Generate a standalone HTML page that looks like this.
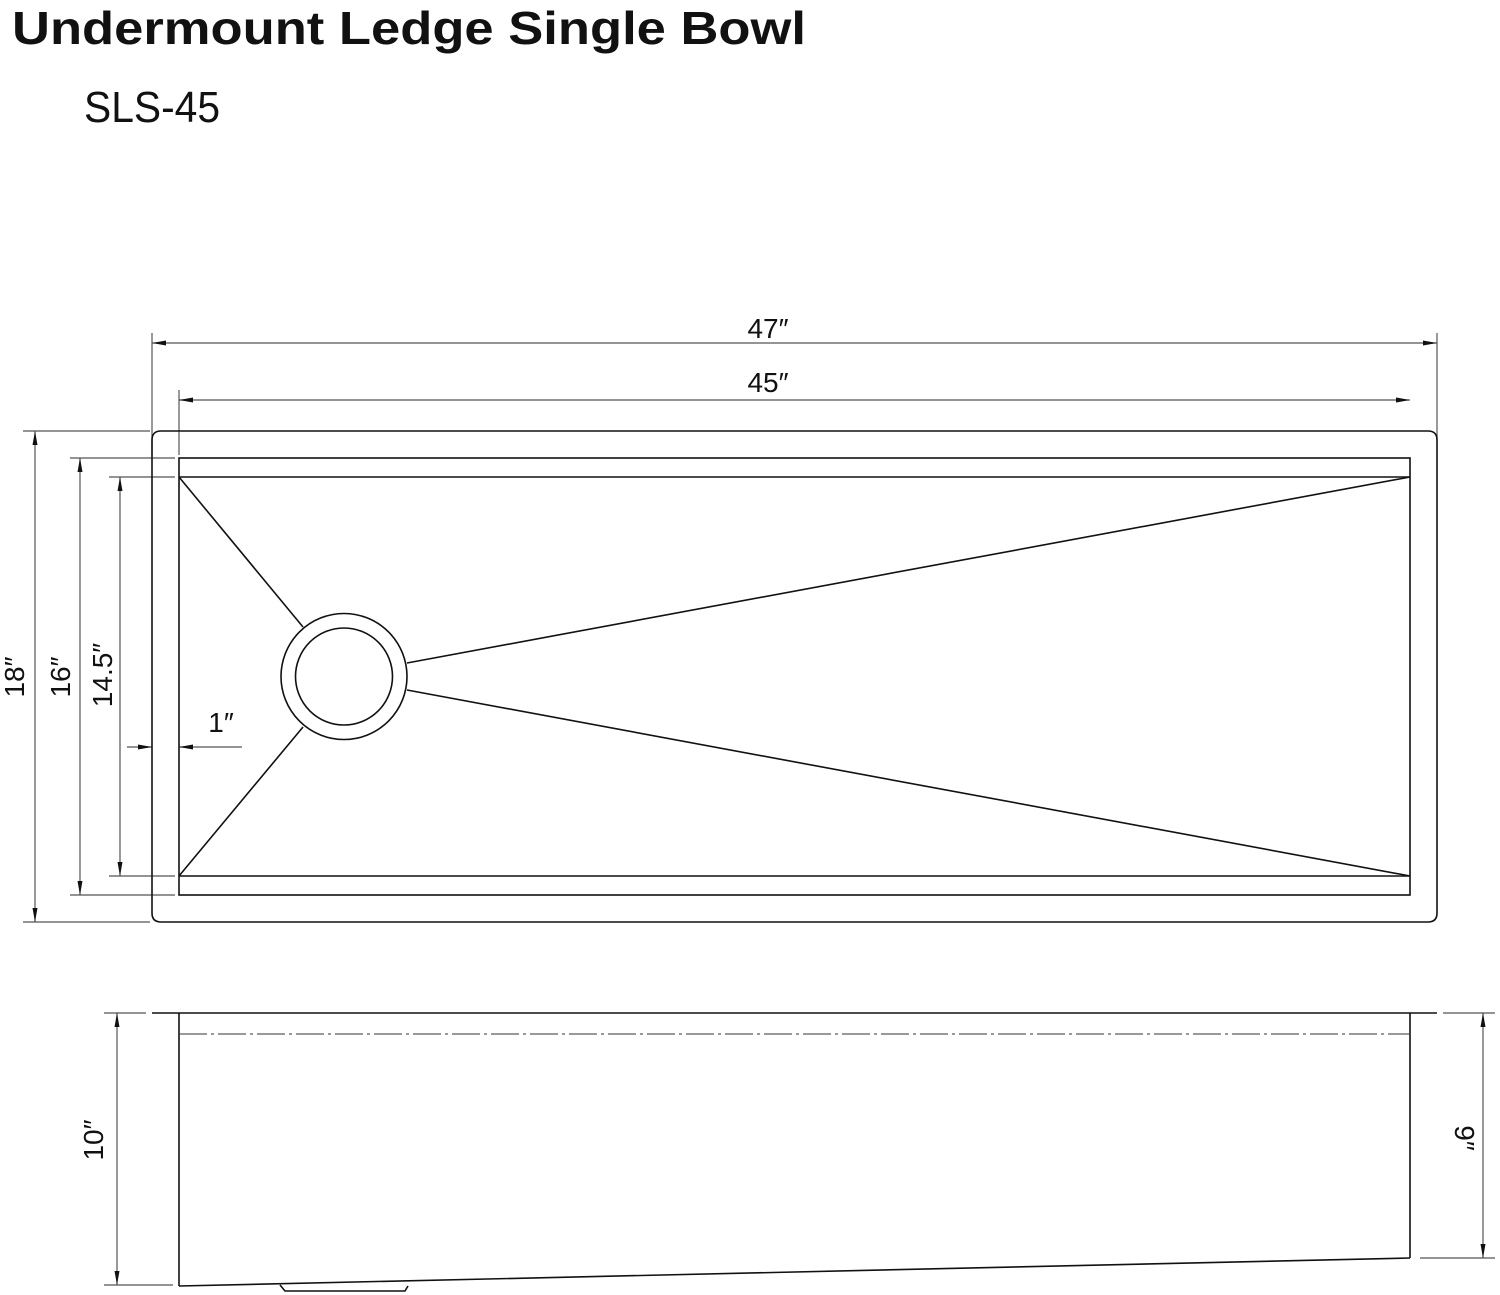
<!DOCTYPE html>
<html><head><meta charset="utf-8"><style>
html,body{margin:0;padding:0;background:#fff;}
svg{display:block;}
text{font-family:"Liberation Sans",sans-serif;fill:#111;}
</style></head><body>
<svg width="1500" height="1295" viewBox="0 0 1500 1295" xmlns="http://www.w3.org/2000/svg">
<defs>
<marker id="a" markerWidth="14" markerHeight="8" refX="14" refY="4" orient="auto-start-reverse" markerUnits="userSpaceOnUse">
<path d="M0,1.5 L14,4 L0,6.5 Z" fill="#111"/></marker>
</defs>
<text x="12" y="44" font-size="46" font-weight="bold" textLength="794" lengthAdjust="spacingAndGlyphs">Undermount Ledge Single Bowl</text>
<text x="84" y="122" font-size="44" textLength="136" lengthAdjust="spacingAndGlyphs">SLS-45</text>

<g stroke="#555" stroke-width="1.2" fill="none">
<line x1="152" y1="333" x2="152" y2="455"/>
<line x1="1437" y1="333" x2="1437" y2="440"/>
<line x1="179" y1="390" x2="179" y2="455"/>
<line x1="23" y1="431" x2="150" y2="431"/>
<line x1="23" y1="922" x2="150" y2="922"/>
<line x1="70" y1="458" x2="175" y2="458"/>
<line x1="70" y1="895" x2="175" y2="895"/>
<line x1="109" y1="477" x2="175" y2="477"/>
<line x1="109" y1="876" x2="175" y2="876"/>
<line x1="152" y1="343" x2="1437" y2="343" marker-end="url(#a)" marker-start="url(#a)"/>
<line x1="179" y1="400" x2="1410" y2="400" marker-end="url(#a)" marker-start="url(#a)"/>
<line x1="35" y1="431" x2="35" y2="922" marker-end="url(#a)" marker-start="url(#a)"/>
<line x1="80" y1="458" x2="80" y2="895" marker-end="url(#a)" marker-start="url(#a)"/>
<line x1="120" y1="477" x2="120" y2="876" marker-end="url(#a)" marker-start="url(#a)"/>
<line x1="127" y1="747" x2="152" y2="747" marker-end="url(#a)"/>
<line x1="242" y1="747" x2="179" y2="747" marker-end="url(#a)"/>
<line x1="104" y1="1013" x2="146" y2="1013"/>
<line x1="104" y1="1285" x2="173" y2="1285"/>
<line x1="117" y1="1013" x2="117" y2="1285" marker-end="url(#a)" marker-start="url(#a)"/>
<line x1="1443" y1="1013" x2="1495" y2="1013"/>
<line x1="1420" y1="1258" x2="1495" y2="1258"/>
<line x1="1483" y1="1013" x2="1483" y2="1258" marker-end="url(#a)" marker-start="url(#a)"/>
</g>
<g stroke="#111" stroke-width="1.6" fill="none">
<path d="M161,431 H1428 Q1437,431 1437,440 V913 Q1437,922 1428,922 H161 Q152,922 152,913 V440 Q152,431 161,431 Z"/>
<rect x="179" y="458" width="1231" height="437"/>
<line x1="179" y1="477" x2="1410" y2="477"/>
<line x1="179" y1="876" x2="1410" y2="876"/>
<line x1="179" y1="477" x2="303" y2="627"/>
<line x1="179" y1="876" x2="303" y2="727"/>
<line x1="407" y1="663" x2="1410" y2="477"/>
<line x1="407" y1="690" x2="1410" y2="876"/>
<circle cx="344" cy="676.5" r="63" fill="#fff"/>
<circle cx="344" cy="676.5" r="48.5"/>
<line x1="152" y1="1013" x2="1437" y2="1013"/>
<line x1="179" y1="1013" x2="179" y2="1286"/>
<line x1="1410" y1="1013" x2="1410" y2="1258"/>
<line x1="179" y1="1286" x2="1410" y2="1258"/>
<path d="M280,1285 L285,1291 H405 L408,1286"/>
</g>
<line x1="179" y1="1034" x2="1410" y2="1034" stroke="#333" stroke-width="1" stroke-dasharray="28,4,3,4"/>

<text x="768" y="338" font-size="28" text-anchor="middle">47″</text>
<text x="768" y="392" font-size="28" text-anchor="middle">45″</text>
<text x="221" y="732" font-size="28" text-anchor="middle">1″</text>
<text transform="translate(24,677) rotate(-90)" font-size="28" text-anchor="middle">18″</text>
<text transform="translate(70,677) rotate(-90)" font-size="28" text-anchor="middle">16″</text>
<text transform="translate(112,675) rotate(-90)" font-size="28" text-anchor="middle">14.5″</text>
<text transform="translate(103,1140) rotate(-90)" font-size="28" text-anchor="middle">10″</text>
<text transform="translate(1455,1138) rotate(90)" font-size="28" text-anchor="middle">9″</text>
</svg>
</body></html>
